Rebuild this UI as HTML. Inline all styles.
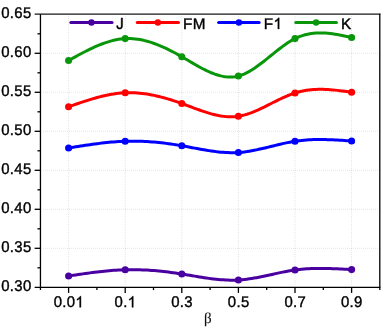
<!DOCTYPE html>
<html><head><meta charset="utf-8"><title>chart</title>
<style>
html,body{margin:0;padding:0;background:#fff;}
body{width:382px;height:327px;overflow:hidden;}
svg{display:block;will-change:transform;}
text{text-rendering:geometricPrecision;font-family:"Liberation Sans",sans-serif;font-size:15.45px;fill:#000;stroke:#000;stroke-width:0.4px;}
.g{fill:#000;stroke:#000;stroke-width:53.0;}
.ax{stroke:#000;stroke-width:1.3;fill:none;}
.gr{stroke:#000;stroke-opacity:0.105;stroke-width:1;stroke-dasharray:1 1;fill:none;}
</style></head><body>
<svg width="382" height="327" viewBox="0 0 382 327">
<rect width="382" height="327" fill="#fff"/>
<line class="gr" x1="43" x2="379.8" y1="53.3" y2="53.3"/>
<line class="gr" x1="43" x2="379.8" y1="92.3" y2="92.3"/>
<line class="gr" x1="43" x2="379.8" y1="131.3" y2="131.3"/>
<line class="gr" x1="43" x2="379.8" y1="170.3" y2="170.3"/>
<line class="gr" x1="43" x2="379.8" y1="209.3" y2="209.3"/>
<line class="gr" x1="43" x2="379.8" y1="248.3" y2="248.3"/>
<line class="gr" x1="68.6" x2="68.6" y1="16" y2="286.3"/>
<line class="gr" x1="125.2" x2="125.2" y1="16" y2="286.3"/>
<line class="gr" x1="181.8" x2="181.8" y1="16" y2="286.3"/>
<line class="gr" x1="238.4" x2="238.4" y1="16" y2="286.3"/>
<line class="gr" x1="295.0" x2="295.0" y1="16" y2="286.3"/>
<line class="gr" x1="351.6" x2="351.6" y1="16" y2="286.3"/>
<line class="ax" x1="34.650000000000006" x2="380.40000000000003" y1="14.180000000000001" y2="14.180000000000001" style="stroke:#161616;stroke-width:1.22"/>
<line class="ax" x1="34.650000000000006" x2="380.40000000000003" y1="287.3" y2="287.3"/>
<line class="ax" x1="40.45" x2="40.45" y1="14.3" y2="290.1"/>
<line class="ax" x1="379.8" x2="379.8" y1="13.700000000000001" y2="290.1"/>
<g transform="translate(1.23,18.05) scale(0.965,1)">
<text x="0.00" y="0" style="font-size:15.45px;letter-spacing:0.33px">0.65</text>
</g>
<line class="ax" x1="37.45" x2="40.45" y1="33.80" y2="33.80"/>
<line class="ax" x1="34.650000000000006" x2="40.45" y1="53.30" y2="53.30"/>
<g transform="translate(1.23,57.05) scale(0.965,1)">
<text x="0.00" y="0" style="font-size:15.45px;letter-spacing:0.33px">0.60</text>
</g>
<line class="ax" x1="37.45" x2="40.45" y1="72.80" y2="72.80"/>
<line class="ax" x1="34.650000000000006" x2="40.45" y1="92.30" y2="92.30"/>
<g transform="translate(1.23,96.05) scale(0.965,1)">
<text x="0.00" y="0" style="font-size:15.45px;letter-spacing:0.33px">0.55</text>
</g>
<line class="ax" x1="37.45" x2="40.45" y1="111.80" y2="111.80"/>
<line class="ax" x1="34.650000000000006" x2="40.45" y1="131.30" y2="131.30"/>
<g transform="translate(1.23,135.05) scale(0.965,1)">
<text x="0.00" y="0" style="font-size:15.45px;letter-spacing:0.33px">0.50</text>
</g>
<line class="ax" x1="37.45" x2="40.45" y1="150.80" y2="150.80"/>
<line class="ax" x1="34.650000000000006" x2="40.45" y1="170.30" y2="170.30"/>
<g transform="translate(1.23,174.05) scale(0.965,1)">
<text x="0.00" y="0" style="font-size:15.45px;letter-spacing:0.33px">0.45</text>
</g>
<line class="ax" x1="37.45" x2="40.45" y1="189.80" y2="189.80"/>
<line class="ax" x1="34.650000000000006" x2="40.45" y1="209.30" y2="209.30"/>
<g transform="translate(1.23,213.05) scale(0.965,1)">
<text x="0.00" y="0" style="font-size:15.45px;letter-spacing:0.33px">0.40</text>
</g>
<line class="ax" x1="37.45" x2="40.45" y1="228.80" y2="228.80"/>
<line class="ax" x1="34.650000000000006" x2="40.45" y1="248.30" y2="248.30"/>
<g transform="translate(1.23,252.05) scale(0.965,1)">
<text x="0.00" y="0" style="font-size:15.45px;letter-spacing:0.33px">0.35</text>
</g>
<line class="ax" x1="37.45" x2="40.45" y1="267.80" y2="267.80"/>
<g transform="translate(1.23,291.05) scale(0.965,1)">
<text x="0.00" y="0" style="font-size:15.45px;letter-spacing:0.33px">0.30</text>
</g>
<line class="ax" x1="68.60" x2="68.60" y1="287.3" y2="292.90000000000003"/>
<g transform="translate(53.71,307.30) scale(0.965,1)">
<text x="0.00" y="0" style="font-size:15.45px;letter-spacing:0.33px">0.0</text>
<path class="g" transform="translate(22.47,0) scale(0.007544,-0.007544)" d="M763 0H583V1147Q518 1085 412.5 1023Q307 961 223 930V1104Q374 1175 487 1276Q600 1377 647 1472H763Z"/>
</g>
<line class="ax" x1="96.90" x2="96.90" y1="287.3" y2="290.1"/>
<line class="ax" x1="125.20" x2="125.20" y1="287.3" y2="292.90000000000003"/>
<g transform="translate(114.62,307.30) scale(0.965,1)">
<text x="0.00" y="0" style="font-size:15.45px;letter-spacing:0.33px">0.</text>
<path class="g" transform="translate(13.55,0) scale(0.007544,-0.007544)" d="M763 0H583V1147Q518 1085 412.5 1023Q307 961 223 930V1104Q374 1175 487 1276Q600 1377 647 1472H763Z"/>
</g>
<line class="ax" x1="153.50" x2="153.50" y1="287.3" y2="290.1"/>
<line class="ax" x1="181.80" x2="181.80" y1="287.3" y2="292.90000000000003"/>
<g transform="translate(171.22,307.30) scale(0.965,1)">
<text x="0.00" y="0" style="font-size:15.45px;letter-spacing:0.33px">0.3</text>
</g>
<line class="ax" x1="210.10" x2="210.10" y1="287.3" y2="290.1"/>
<line class="ax" x1="238.40" x2="238.40" y1="287.3" y2="292.90000000000003"/>
<g transform="translate(227.82,307.30) scale(0.965,1)">
<text x="0.00" y="0" style="font-size:15.45px;letter-spacing:0.33px">0.5</text>
</g>
<line class="ax" x1="266.70" x2="266.70" y1="287.3" y2="290.1"/>
<line class="ax" x1="295.00" x2="295.00" y1="287.3" y2="292.90000000000003"/>
<g transform="translate(284.42,307.30) scale(0.965,1)">
<text x="0.00" y="0" style="font-size:15.45px;letter-spacing:0.33px">0.7</text>
</g>
<line class="ax" x1="323.30" x2="323.30" y1="287.3" y2="290.1"/>
<line class="ax" x1="351.60" x2="351.60" y1="287.3" y2="292.90000000000003"/>
<g transform="translate(341.02,307.30) scale(0.965,1)">
<text x="0.00" y="0" style="font-size:15.45px;letter-spacing:0.33px">0.9</text>
</g>
<text x="207.7" y="322.7" text-anchor="middle" style="font-family:&quot;Liberation Serif&quot;,serif;font-size:15px;stroke:#111;stroke-width:0.12px;fill:#111">β</text>
<path d="M68.60,276.00 L70.98,275.64 L73.36,275.28 L75.73,274.92 L78.11,274.57 L80.49,274.22 L82.87,273.87 L85.25,273.53 L87.63,273.20 L90.00,272.88 L92.38,272.57 L94.76,272.26 L97.14,271.97 L99.52,271.69 L101.89,271.43 L104.27,271.17 L106.65,270.94 L109.03,270.72 L111.41,270.52 L113.78,270.33 L116.16,270.17 L118.54,270.03 L120.92,269.91 L123.30,269.81 L125.68,269.74 L128.05,269.69 L130.43,269.66 L132.81,269.66 L135.19,269.68 L137.57,269.73 L139.94,269.79 L142.32,269.88 L144.70,269.99 L147.08,270.12 L149.46,270.27 L151.84,270.44 L154.21,270.62 L156.59,270.83 L158.97,271.05 L161.35,271.29 L163.73,271.55 L166.10,271.82 L168.48,272.11 L170.86,272.42 L173.24,272.74 L175.62,273.07 L177.99,273.42 L180.37,273.78 L182.75,274.15 L185.13,274.53 L187.51,274.93 L189.89,275.32 L192.26,275.72 L194.64,276.12 L197.02,276.52 L199.40,276.91 L201.78,277.29 L204.15,277.66 L206.53,278.02 L208.91,278.36 L211.29,278.68 L213.67,278.97 L216.05,279.24 L218.42,279.49 L220.80,279.70 L223.18,279.87 L225.56,280.01 L227.94,280.11 L230.31,280.17 L232.69,280.18 L235.07,280.14 L237.45,280.05 L239.83,279.91 L242.21,279.71 L244.58,279.47 L246.96,279.18 L249.34,278.85 L251.72,278.48 L254.10,278.08 L256.47,277.65 L258.85,277.20 L261.23,276.72 L263.61,276.23 L265.99,275.72 L268.36,275.21 L270.74,274.68 L273.12,274.16 L275.50,273.64 L277.88,273.13 L280.26,272.63 L282.63,272.14 L285.01,271.67 L287.39,271.23 L289.77,270.81 L292.15,270.42 L294.52,270.07 L296.90,269.75 L299.28,269.47 L301.66,269.23 L304.04,269.02 L306.42,268.85 L308.79,268.70 L311.17,268.59 L313.55,268.50 L315.93,268.44 L318.31,268.41 L320.68,268.40 L323.06,268.41 L325.44,268.44 L327.82,268.49 L330.20,268.55 L332.57,268.63 L334.95,268.72 L337.33,268.83 L339.71,268.94 L342.09,269.06 L344.47,269.19 L346.84,269.32 L349.22,269.46 L351.60,269.60" fill="none" stroke="#4a00a0" stroke-width="3" stroke-linecap="round" stroke-linejoin="round"/>
<circle cx="68.60" cy="276.00" r="3.55" fill="#4a00a0"/>
<circle cx="125.20" cy="269.75" r="3.55" fill="#4a00a0"/>
<circle cx="181.80" cy="274.00" r="3.55" fill="#4a00a0"/>
<circle cx="238.40" cy="280.00" r="3.55" fill="#4a00a0"/>
<circle cx="295.00" cy="270.00" r="3.55" fill="#4a00a0"/>
<circle cx="351.60" cy="269.60" r="3.55" fill="#4a00a0"/>
<path d="M68.60,106.75 L70.98,105.92 L73.36,105.10 L75.73,104.28 L78.11,103.47 L80.49,102.67 L82.87,101.88 L85.25,101.10 L87.63,100.35 L90.00,99.61 L92.38,98.90 L94.76,98.21 L97.14,97.55 L99.52,96.92 L101.89,96.33 L104.27,95.76 L106.65,95.24 L109.03,94.76 L111.41,94.32 L113.78,93.93 L116.16,93.58 L118.54,93.29 L120.92,93.04 L123.30,92.86 L125.68,92.73 L128.05,92.66 L130.43,92.65 L132.81,92.70 L135.19,92.80 L137.57,92.95 L139.94,93.16 L142.32,93.42 L144.70,93.72 L147.08,94.07 L149.46,94.47 L151.84,94.91 L154.21,95.39 L156.59,95.92 L158.97,96.48 L161.35,97.08 L163.73,97.71 L166.10,98.38 L168.48,99.07 L170.86,99.80 L173.24,100.56 L175.62,101.35 L177.99,102.16 L180.37,102.99 L182.75,103.84 L185.13,104.72 L187.51,105.61 L189.89,106.50 L192.26,107.39 L194.64,108.28 L197.02,109.16 L199.40,110.02 L201.78,110.85 L204.15,111.66 L206.53,112.42 L208.91,113.15 L211.29,113.83 L213.67,114.45 L216.05,115.02 L218.42,115.52 L220.80,115.94 L223.18,116.29 L225.56,116.55 L227.94,116.72 L230.31,116.80 L232.69,116.77 L235.07,116.64 L237.45,116.38 L239.83,116.01 L242.21,115.52 L244.58,114.92 L246.96,114.23 L249.34,113.44 L251.72,112.57 L254.10,111.62 L256.47,110.61 L258.85,109.55 L261.23,108.44 L263.61,107.29 L265.99,106.12 L268.36,104.92 L270.74,103.72 L273.12,102.52 L275.50,101.32 L277.88,100.14 L280.26,98.98 L282.63,97.86 L285.01,96.79 L287.39,95.76 L289.77,94.80 L292.15,93.91 L294.52,93.10 L296.90,92.38 L299.28,91.74 L301.66,91.19 L304.04,90.72 L306.42,90.32 L308.79,90.00 L311.17,89.74 L313.55,89.55 L315.93,89.42 L318.31,89.35 L320.68,89.33 L323.06,89.36 L325.44,89.44 L327.82,89.56 L330.20,89.71 L332.57,89.90 L334.95,90.12 L337.33,90.37 L339.71,90.64 L342.09,90.93 L344.47,91.23 L346.84,91.55 L349.22,91.87 L351.60,92.20" fill="none" stroke="#ff0000" stroke-width="3" stroke-linecap="round" stroke-linejoin="round"/>
<circle cx="68.60" cy="106.75" r="3.55" fill="#ff0000"/>
<circle cx="125.20" cy="92.75" r="3.55" fill="#ff0000"/>
<circle cx="181.80" cy="103.50" r="3.55" fill="#ff0000"/>
<circle cx="238.40" cy="116.25" r="3.55" fill="#ff0000"/>
<circle cx="295.00" cy="92.95" r="3.55" fill="#ff0000"/>
<circle cx="351.60" cy="92.20" r="3.55" fill="#ff0000"/>
<path d="M68.60,148.00 L70.98,147.61 L73.36,147.23 L75.73,146.84 L78.11,146.46 L80.49,146.09 L82.87,145.72 L85.25,145.35 L87.63,145.00 L90.00,144.65 L92.38,144.31 L94.76,143.99 L97.14,143.67 L99.52,143.37 L101.89,143.08 L104.27,142.81 L106.65,142.56 L109.03,142.32 L111.41,142.10 L113.78,141.90 L116.16,141.72 L118.54,141.56 L120.92,141.43 L123.30,141.32 L125.68,141.24 L128.05,141.18 L130.43,141.14 L132.81,141.13 L135.19,141.15 L137.57,141.19 L139.94,141.25 L142.32,141.34 L144.70,141.45 L147.08,141.58 L149.46,141.73 L151.84,141.91 L154.21,142.10 L156.59,142.32 L158.97,142.56 L161.35,142.81 L163.73,143.09 L166.10,143.38 L168.48,143.69 L170.86,144.02 L173.24,144.37 L175.62,144.73 L177.99,145.11 L180.37,145.51 L182.75,145.92 L185.13,146.34 L187.51,146.78 L189.89,147.22 L192.26,147.66 L194.64,148.11 L197.02,148.55 L199.40,148.99 L201.78,149.42 L204.15,149.84 L206.53,150.24 L208.91,150.62 L211.29,150.98 L213.67,151.32 L216.05,151.63 L218.42,151.90 L220.80,152.14 L223.18,152.34 L225.56,152.50 L227.94,152.61 L230.31,152.68 L232.69,152.70 L235.07,152.65 L237.45,152.56 L239.83,152.40 L242.21,152.18 L244.58,151.90 L246.96,151.58 L249.34,151.20 L251.72,150.79 L254.10,150.34 L256.47,149.86 L258.85,149.34 L261.23,148.81 L263.61,148.25 L265.99,147.68 L268.36,147.10 L270.74,146.51 L273.12,145.93 L275.50,145.34 L277.88,144.76 L280.26,144.20 L282.63,143.65 L285.01,143.13 L287.39,142.63 L289.77,142.16 L292.15,141.72 L294.52,141.32 L296.90,140.97 L299.28,140.66 L301.66,140.39 L304.04,140.17 L306.42,139.98 L308.79,139.82 L311.17,139.70 L313.55,139.61 L315.93,139.55 L318.31,139.52 L320.68,139.52 L323.06,139.54 L325.44,139.58 L327.82,139.64 L330.20,139.72 L332.57,139.82 L334.95,139.94 L337.33,140.06 L339.71,140.20 L342.09,140.35 L344.47,140.51 L346.84,140.67 L349.22,140.83 L351.60,141.00" fill="none" stroke="#0000ff" stroke-width="3" stroke-linecap="round" stroke-linejoin="round"/>
<circle cx="68.60" cy="148.00" r="3.55" fill="#0000ff"/>
<circle cx="125.20" cy="141.25" r="3.55" fill="#0000ff"/>
<circle cx="181.80" cy="145.75" r="3.55" fill="#0000ff"/>
<circle cx="238.40" cy="152.50" r="3.55" fill="#0000ff"/>
<circle cx="295.00" cy="141.25" r="3.55" fill="#0000ff"/>
<circle cx="351.60" cy="141.00" r="3.55" fill="#0000ff"/>
<path d="M68.60,60.50 L70.98,59.19 L73.36,57.88 L75.73,56.57 L78.11,55.29 L80.49,54.01 L82.87,52.76 L85.25,51.53 L87.63,50.34 L90.00,49.17 L92.38,48.05 L94.76,46.96 L97.14,45.93 L99.52,44.94 L101.89,44.00 L104.27,43.13 L106.65,42.32 L109.03,41.57 L111.41,40.90 L113.78,40.30 L116.16,39.78 L118.54,39.34 L120.92,38.99 L123.30,38.74 L125.68,38.58 L128.05,38.51 L130.43,38.55 L132.81,38.67 L135.19,38.89 L137.57,39.19 L139.94,39.58 L142.32,40.05 L144.70,40.59 L147.08,41.21 L149.46,41.90 L151.84,42.66 L154.21,43.48 L156.59,44.36 L158.97,45.31 L161.35,46.31 L163.73,47.36 L166.10,48.46 L168.48,49.61 L170.86,50.80 L173.24,52.03 L175.62,53.30 L177.99,54.60 L180.37,55.94 L182.75,57.30 L185.13,58.68 L187.51,60.08 L189.89,61.48 L192.26,62.88 L194.64,64.26 L197.02,65.62 L199.40,66.95 L201.78,68.23 L204.15,69.47 L206.53,70.64 L208.91,71.74 L211.29,72.77 L213.67,73.71 L216.05,74.55 L218.42,75.28 L220.80,75.90 L223.18,76.40 L225.56,76.76 L227.94,76.97 L230.31,77.04 L232.69,76.94 L235.07,76.68 L237.45,76.23 L239.83,75.60 L242.21,74.78 L244.58,73.79 L246.96,72.65 L249.34,71.36 L251.72,69.95 L254.10,68.42 L256.47,66.79 L258.85,65.08 L261.23,63.30 L263.61,61.46 L265.99,59.58 L268.36,57.67 L270.74,55.75 L273.12,53.83 L275.50,51.92 L277.88,50.03 L280.26,48.19 L282.63,46.41 L285.01,44.70 L287.39,43.07 L289.77,41.54 L292.15,40.13 L294.52,38.84 L296.90,37.69 L299.28,36.68 L301.66,35.81 L304.04,35.06 L306.42,34.43 L308.79,33.92 L311.17,33.52 L313.55,33.22 L315.93,33.02 L318.31,32.91 L320.68,32.88 L323.06,32.93 L325.44,33.06 L327.82,33.25 L330.20,33.50 L332.57,33.81 L334.95,34.16 L337.33,34.56 L339.71,35.00 L342.09,35.46 L344.47,35.95 L346.84,36.46 L349.22,36.97 L351.60,37.50" fill="none" stroke="#0a960a" stroke-width="3" stroke-linecap="round" stroke-linejoin="round"/>
<circle cx="68.60" cy="60.50" r="3.55" fill="#0a960a"/>
<circle cx="125.20" cy="38.60" r="3.55" fill="#0a960a"/>
<circle cx="181.80" cy="56.75" r="3.55" fill="#0a960a"/>
<circle cx="238.40" cy="76.00" r="3.55" fill="#0a960a"/>
<circle cx="295.00" cy="38.60" r="3.55" fill="#0a960a"/>
<circle cx="351.60" cy="37.50" r="3.55" fill="#0a960a"/>
<line x1="70.9" x2="112.0" y1="22.45" y2="22.45" stroke="#4a00a0" stroke-width="3.1" stroke-linecap="round"/>
<circle cx="91.45" cy="22.45" r="3.2" fill="#4a00a0"/>
<g transform="translate(116.15,28.95) scale(0.987,1)">
<path class="g" transform="translate(0.00,0) scale(0.007544,-0.007544)" d="M59 418L234 442Q241 274 297 212Q353 150 452 150Q525 150 578 183.5Q631 217 651 274.5Q671 332 671 458V1466H865V469Q865 285 820.5 184Q776 83 679.5 30Q583 -23 453 -23Q260 -23 157.5 88Q55 199 59 418Z"/>
</g>
<line x1="137.3" x2="178.4" y1="22.45" y2="22.45" stroke="#ff0000" stroke-width="3.1" stroke-linecap="round"/>
<circle cx="157.85" cy="22.45" r="3.2" fill="#ff0000"/>
<g transform="translate(182.95,28.95) scale(0.987,1)">
<text x="0.00" y="0" style="font-size:15.45px;letter-spacing:0.45px">FM</text>
</g>
<line x1="218.7" x2="259.1" y1="22.45" y2="22.45" stroke="#0000ff" stroke-width="3.1" stroke-linecap="round"/>
<circle cx="238.90" cy="22.45" r="3.2" fill="#0000ff"/>
<g transform="translate(263.75,28.95) scale(0.987,1)">
<text x="0.00" y="0" style="font-size:15.45px;letter-spacing:0.45px">F</text>
<path class="g" transform="translate(9.89,0) scale(0.007544,-0.007544)" d="M763 0H583V1147Q518 1085 412.5 1023Q307 961 223 930V1104Q374 1175 487 1276Q600 1377 647 1472H763Z"/>
</g>
<line x1="295.8" x2="336.4" y1="22.45" y2="22.45" stroke="#0a960a" stroke-width="3.1" stroke-linecap="round"/>
<circle cx="316.10" cy="22.45" r="3.2" fill="#0a960a"/>
<g transform="translate(341.05,28.95) scale(0.987,1)">
<text x="0.00" y="0" style="font-size:15.45px;letter-spacing:0.45px">K</text>
</g>
</svg></body></html>
